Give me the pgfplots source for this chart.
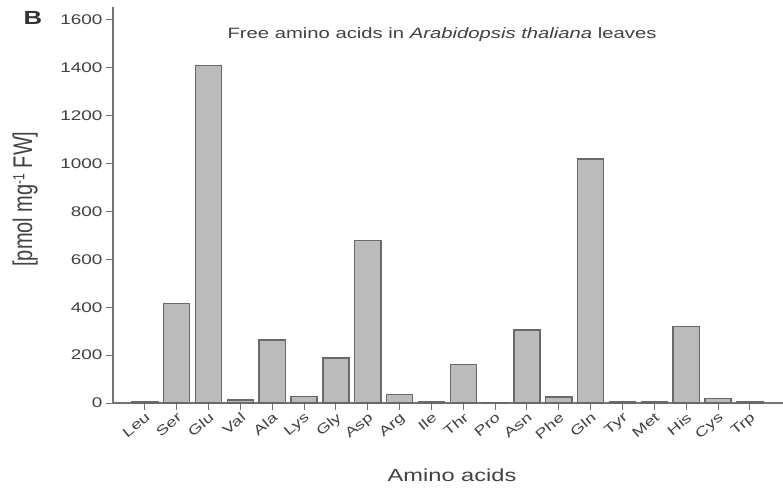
\documentclass[border=0pt]{standalone}
\usepackage{fontspec}
\setmainfont{Liberation Sans}[FakeStretch=1.35]
\newfontfamily\plainfont{Liberation Sans}
\usepackage{pgfplots}
\pgfplotsset{compat=1.18}
\definecolor{barfill}{RGB}{187,187,187}
\definecolor{baredge}{RGB}{105,105,105}
\definecolor{inkgray}{RGB}{65,65,65}
\definecolor{axgray}{RGB}{115,115,115}
\begin{document}
\begin{tikzpicture}
\begin{axis}[
  scale only axis,
  width=670pt, height=396pt,
  xmin=-1, xmax=20.04,
  ymin=0, ymax=1654,
  axis lines*=left,
  axis line style={draw=axgray, line width=1.2pt},
  tick align=outside,
  major tick length=7pt,
  tick style={draw=axgray, line width=1pt},
  ytick={0,200,...,1600},
  xtick={0,...,19},
  xticklabels={Leu,Ser,Glu,Val,Ala,Lys,Gly,Asp,Arg,Ile,Thr,Pro,Asn,Phe,Gln,Tyr,Met,His,Cys,Trp},
  /pgf/number format/assume math mode=true,
  /pgf/number format/1000 sep={},
  y tick label style={font=\fontsize{14}{16}\selectfont, text=inkgray},
  x tick label style={font=\fontsize{13.5}{15}\selectfont, text=inkgray,
    rotate=40, anchor=north east, inner sep=1pt},
  title={Free amino acids in \textit{Arabidopsis thaliana} leaves},
  title style={at={(axis description cs:0.491,0.914)}, anchor=center,
    font=\fontsize{15}{18}\selectfont, text=inkgray},
  xlabel={Amino acids},
  xlabel style={at={(axis description cs:0.506,-0.182)}, anchor=center,
    font=\fontsize{17.5}{20}\selectfont, text=inkgray},
  ylabel={\scalebox{1}[1.35]{\plainfont [pmol mg\raisebox{0.55ex}{\fontsize{12}{12}\selectfont -1} FW]}},
  ylabel style={at={(axis description cs:-0.131,0.515)}, anchor=center,
    font=\fontsize{20}{22}\selectfont, text=inkgray},
  ybar,
  bar width=0.82,
  clip=false,
]
\addplot[fill=barfill, draw=baredge, line width=1.4pt] coordinates {
  (0,4) (1,415) (2,1410) (3,12) (4,263) (5,27) (6,188) (7,678) (8,36) (9,4)
  (10,160) (11,0) (12,305) (13,25) (14,1019) (15,4) (16,4) (17,319) (18,18) (19,4)
};
\end{axis}
\node[font=\fontsize{19}{22}\selectfont\bfseries, text=black!80] at (-80pt,385pt) {B};
\pgfresetboundingbox
\path[use as bounding box] (-113pt,-85pt) rectangle (670pt,403pt);
\end{tikzpicture}
\end{document}
